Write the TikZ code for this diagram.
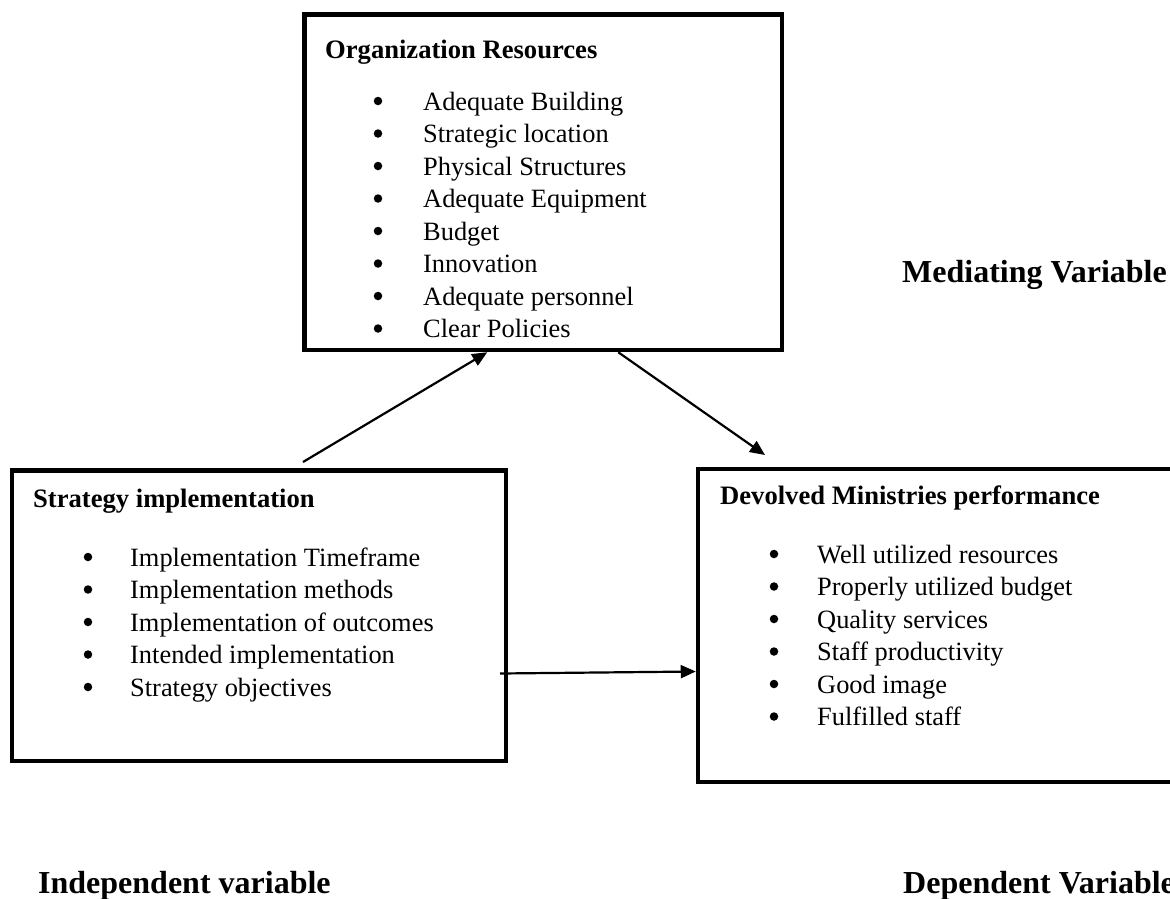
\documentclass[tikz,border=0pt]{standalone}
\usepackage{fontspec}
\setmainfont{Liberation Serif}
\usetikzlibrary{arrows.meta}
\begin{document}
\begin{tikzpicture}[x=1pt,y=-1pt,
  box/.style={draw, line width=4.5pt, rectangle, inner sep=0pt},
  head/.style={anchor=base west, inner sep=0pt, font=\fontsize{26.6}{30}\selectfont\bfseries},
  item/.style={anchor=base west, inner sep=0pt, font=\fontsize{26.4}{30}\selectfont},
  bul/.style={circle, fill, inner sep=0pt, minimum size=8.5pt},
  lab/.style={anchor=base west, inner sep=0pt, font=\fontsize{32}{36}\selectfont\bfseries},
  arr/.style={line width=2.2pt, -{Triangle[length=15pt,width=13pt]}}
]
\useasboundingbox (0,0) rectangle (1170,898);
\clip (0,0) rectangle (1170,898);
\fill[white] (0,0) rectangle (1170,898);

% boxes
\node[box, minimum width=477.5pt, minimum height=335.5pt] (org) at (543.25,182.25) {};
\node[box, minimum width=494pt, minimum height=290.5pt] (si) at (259,615.75) {};
\node[box, minimum width=522pt, minimum height=313pt] (dmp) at (959,625.5) {};

% titles
\node[head] (orgt) at (325,58) {Organization Resources};
\node[head] (sit) at (33,507) {Strategy implementation};
\node[head] (dmpt) at (720,504) {Devolved Ministries performance};

% items
\foreach \t [count=\i from 0] in {Adequate Building, Strategic location, Physical Structures, Adequate Equipment, Budget, Innovation, Adequate personnel, Clear Policies} {
  \node[bul] (ob\i) at (378,{101+32.5*\i}) {};
  \node[item] (ot\i) at (423,{110+32.5*\i}) {\t};
}
\foreach \t [count=\i from 0] in {Implementation Timeframe, Implementation methods, Implementation of outcomes, Intended implementation, Strategy objectives} {
  \node[bul] (sb\i) at (88,{557+32.5*\i}) {};
  \node[item] (st\i) at (130,{566+32.5*\i}) {\t};
}
\foreach \t [count=\i from 0] in {Well utilized resources, Properly utilized budget, Quality services, Staff productivity, Good image, Fulfilled staff} {
  \node[bul] (db\i) at (774,{554+32.5*\i}) {};
  \node[item] (dt\i) at (817,{563+32.5*\i}) {\t};
}

% labels
\node[lab] (med) at (902,282) {Mediating Variable};
\node[lab] (ind) at (38,893) {Independent variable};
\node[lab] (dep) at (903,893) {Dependent Variable};

% connectors
\coordinate (s1) at (303,462);
\draw[arr] (s1) -- ([xshift=185pt]org.south west);
\coordinate (e2) at (765,455);
\draw[arr] ([xshift=316pt]org.south west) -- (e2);
\coordinate (s3) at (500,673.5);
\draw[arr] (s3) -- ([yshift=-46pt]dmp.west);
\end{tikzpicture}
\end{document}
